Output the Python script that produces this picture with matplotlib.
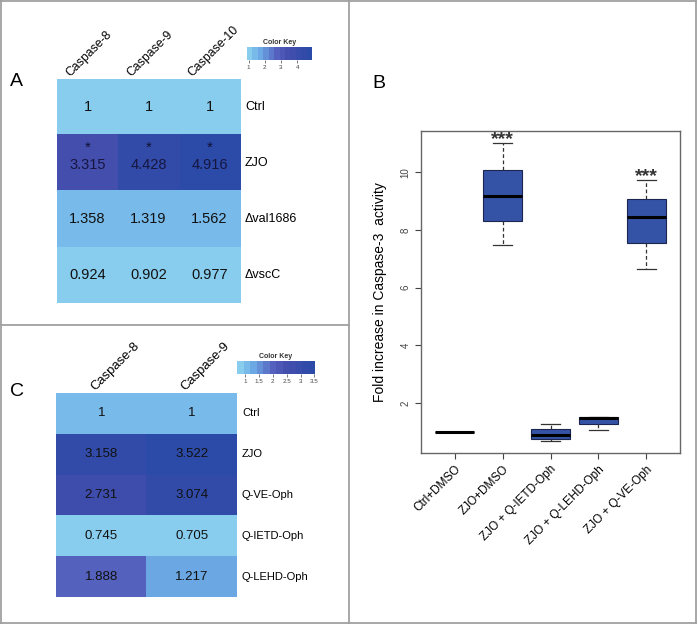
import numpy as np
import matplotlib
matplotlib.use("Agg")
import matplotlib.pyplot as plt
import matplotlib.transforms as mtransforms
from matplotlib.colors import LinearSegmentedColormap
from matplotlib.lines import Line2D
from matplotlib.ticker import FormatStrFormatter

plt.rcParams['font.family'] = ['Liberation Sans', 'DejaVu Sans']

# panel A: caspase activity heatmap
a_cols = ['Caspase-8', 'Caspase-9', 'Caspase-10']
a_rows = ['Ctrl', 'ZJO', 'Δval1686', 'ΔvscC']
a_vals = np.array([[1, 1, 1],
                   [3.315, 4.428, 4.916],
                   [1.358, 1.319, 1.562],
                   [0.924, 0.902, 0.977]])
a_star_rows = ['ZJO']
a_key_ticks = [1, 2, 3, 4]

# panel C: inhibitor heatmap
c_cols = ['Caspase-8', 'Caspase-9']
c_rows = ['Ctrl', 'ZJO', 'Q-VE-Oph', 'Q-IETD-Oph', 'Q-LEHD-Oph']
c_vals = np.array([[1, 1],
                   [3.158, 3.522],
                   [2.731, 3.074],
                   [0.745, 0.705],
                   [1.888, 1.217]])
c_key_ticks = [1, 1.5, 2, 2.5, 3, 3.5]

# panel B: caspase-3 boxplot
b_groups = ['Ctrl+DMSO', 'ZJO+DMSO', 'ZJO + Q-IETD-Oph', 'ZJO + Q-LEHD-Oph', 'ZJO + Q-VE-Oph']
b_whislo = [1, 7.46, 0.68, 1.06, 6.66]
b_q1 = [1, 8.30, 0.75, 1.27, 7.56]
b_med = [1, 9.17, 0.89, 1.48, 8.43]
b_q3 = [1, 10.07, 1.10, 1.51, 9.06]
b_whishi = [1, 11.0, 1.27, 1.52, 9.72]
b_signif = ['', '***', '', '', '***']

cmap = LinearSegmentedColormap.from_list(
    'key', [(0.0, '#88cdee'), (0.15, '#6eb0e8'), (0.45, '#5562be'),
            (0.62, '#464fae'), (1.0, '#2c4aa8')]).resampled(12)

W, H = 697, 624
fig = plt.figure(figsize=(W / 100, H / 100), dpi=100)


def box(l, t, r, b):
    return [l / W, 1 - b / H, (r - l) / W, (b - t) / H]


def heatmap(rect, key_rect, vals, rows, cols, ticks, col_dx, col_fs, row_fs, num_fs,
            star_rows=()):
    ax = fig.add_axes(box(*rect))
    im = ax.imshow(vals, cmap=cmap, aspect='auto', vmin=vals.min(), vmax=vals.max())
    ax.set_xticks([])
    ax.set_yticks([])
    for s in ax.spines.values():
        s.set_visible(False)
    for i, rname in enumerate(rows):
        for j in range(len(cols)):
            if rname in star_rows:
                ax.text(j, i - 0.27, '*', ha='center', va='center', fontsize=11, color='#111133')
                ax.text(j, i + 0.04, f'{vals[i, j]:g}', ha='center', va='center',
                        fontsize=num_fs, color='#161640')
            else:
                ax.text(j, i, f'{vals[i, j]:g}', ha='center', va='center',
                        fontsize=num_fs, color='#111111')
        off = mtransforms.ScaledTranslation(0.05, 0, fig.dpi_scale_trans)
        ax.text(len(cols) - 0.5, i, rname, ha='left', va='center', fontsize=row_fs,
                transform=ax.transData + off)
    for j, cname in enumerate(cols):
        off = mtransforms.ScaledTranslation(col_dx / 100, 0.02, fig.dpi_scale_trans)
        ax.text(j, -0.5, cname, rotation=45, rotation_mode='anchor', ha='left',
                va='baseline', fontsize=col_fs, transform=ax.transData + off, clip_on=False)
    cax = fig.add_axes(box(*key_rect))
    cb = fig.colorbar(im, cax=cax, orientation='horizontal')
    cb.set_ticks(ticks)
    cax.xaxis.set_major_formatter(FormatStrFormatter('%g'))
    cb.outline.set_visible(False)
    cax.tick_params(labelsize=4.5, length=2, width=0.5, pad=1.5, colors='#444444')
    cax.set_title('Color Key', fontsize=5, fontweight='bold', pad=2, color='#333333')
    return ax


heatmap((57, 79, 240, 303), (247, 47, 312, 60), a_vals, a_rows, a_cols, a_key_ticks,
        col_dx=-17, col_fs=8.8, row_fs=9, num_fs=10.5, star_rows=a_star_rows)
heatmap((56, 393, 237, 597), (237, 361, 315, 374), c_vals, c_rows, c_cols, c_key_ticks,
        col_dx=-6, col_fs=9.4, row_fs=8, num_fs=9.5)

# panel B
ax = fig.add_axes(box(421, 131, 680, 453))
pos = np.arange(1, len(b_groups) + 1)
stats = [dict(whislo=lo, q1=q1, med=m, q3=q3, whishi=hi)
         for lo, q1, m, q3, hi in zip(b_whislo, b_q1, b_med, b_q3, b_whishi)]
ax.bxp(stats, positions=pos, widths=0.8, patch_artist=True, showfliers=False,
       boxprops=dict(facecolor='#3553a6', edgecolor='#1c2450', linewidth=0.8),
       medianprops=dict(color='black', linewidth=2.2),
       whiskerprops=dict(color='#333333', linestyle=(0, (3, 2)), linewidth=0.9),
       capprops=dict(color='#333333', linewidth=0.9))
for p, hi, s in zip(pos, b_whishi, b_signif):
    if s:
        ax.text(p, hi - 0.02, s, ha='center', va='baseline', fontsize=14,
                fontweight='bold', color='#333333')
ax.set_xlim(0.3, 5.7)
ax.set_ylim(0.26, 11.43)
ax.set_yticks([2, 4, 6, 8, 10])
ax.set_xticks(pos)
ax.set_xticklabels(b_groups, rotation=45, ha='right', rotation_mode='anchor', fontsize=8.5)
for lab in ax.get_yticklabels():
    lab.set_rotation(90)
    lab.set_va('center')
ax.tick_params(axis='y', labelsize=7, colors='#444444', length=4, width=0.8)
ax.tick_params(axis='x', colors='#444444', length=4, width=0.8, labelcolor='black')
for s in ax.spines.values():
    s.set_color('#666666')
    s.set_linewidth(1.0)
ax.set_ylabel('Fold increase in Caspase-3  activity', fontsize=10)
ax.yaxis.set_label_coords(-0.131, 0.5)

# panel letters
fig.text(10 / W, 1 - 82 / H, 'A', fontsize=14, va='center')
fig.text(372 / W, 1 - 83 / H, 'B', fontsize=14, va='center')
fig.text(10 / W, 1 - 392 / H, 'C', fontsize=14, va='center')

# panel frames
gray = '#a0a0a0'
for xs, ys in [([1, 696], [1, 1]), ([1, 696], [623, 623]), ([1, 1], [0, 624]),
               ([696, 696], [0, 624]), ([349, 349], [0, 624]), ([0, 349], [325, 325])]:
    fig.add_artist(Line2D([x / W for x in xs], [1 - y / H for y in ys],
                          transform=fig.transFigure, color=gray, lw=1.3))

fig.savefig('out.png', dpi=100)
